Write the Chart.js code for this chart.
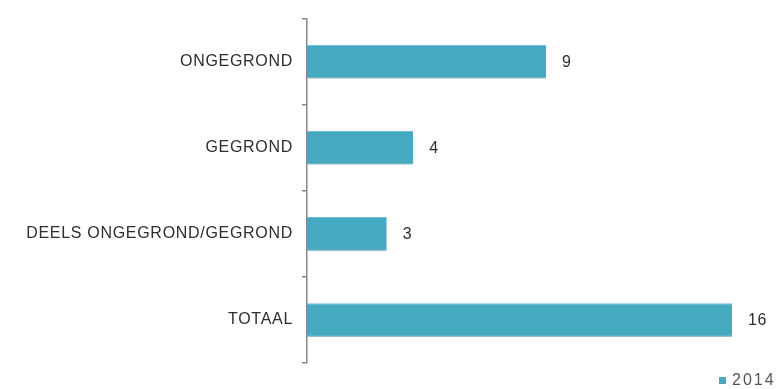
<!DOCTYPE html>
<html>
<head>
<meta charset="utf-8">
<script src="https://cdn.jsdelivr.net/npm/chart.js@4/dist/chart.umd.min.js"></script>
<style>
  html, body { margin: 0; padding: 0; background: #fff; }
  #wrap { width: 779px; height: 389px; }
</style>
</head>
<body>
<div id="wrap"><canvas id="myChart"></canvas></div>
<script>
const categories = ['ONGEGROND', 'GEGROND', 'DEELS ONGEGROND/GEGROND', 'TOTAAL'];
const seriesName = '2014';
const values = [9, 4, 3, 16];

const barColor = '#45a9c2';
const textColor = '#2e2e2e';
const fontFamily = '"Liberation Sans", Arial, sans-serif';

// letter spacing for all canvas text, the source font is set rather loose
const spacing = {
  id: 'spacing',
  beforeUpdate(chart) { chart.ctx.letterSpacing = '0.7px'; },
  beforeDraw(chart) { chart.ctx.letterSpacing = '0.7px'; }
};

// soft shadow under the bars
const barShadow = {
  id: 'barShadow',
  beforeDatasetsDraw(chart) {
    const c = chart.ctx;
    c.save();
    c.shadowColor = 'rgba(0,0,0,0.2)';
    c.shadowBlur = 5;
    c.shadowOffsetY = 3;
  },
  afterDatasetsDraw(chart) {
    chart.ctx.restore();
  }
};

// value next to each bar + small legend bottom right
const labelsAndLegend = {
  id: 'labelsAndLegend',
  afterDraw(chart) {
    const c = chart.ctx;
    const meta = chart.getDatasetMeta(0);
    c.save();
    c.letterSpacing = '0.5px';
    c.font = '16px ' + fontFamily;
    c.fillStyle = textColor;
    c.textBaseline = 'middle';
    c.textAlign = 'left';
    meta.data.forEach(function(bar, i) {
      c.fillText(String(values[i]), bar.x + 16, bar.y + 1);
    });

    c.letterSpacing = '2px';
    c.font = '16px ' + fontFamily;
    c.fillStyle = '#555';
    c.fillText(seriesName, 732, 381);
    c.fillStyle = barColor;
    c.fillRect(719, 377, 7, 7);
    c.restore();
  }
};

new Chart(document.getElementById('myChart'), {
  type: 'bar',
  data: {
    labels: categories,
    datasets: [{
      label: seriesName,
      data: values,
      backgroundColor: barColor,
      borderColor: '#6cc0d4',
      borderWidth: { top: 1, bottom: 1, left: 0, right: 0 },
      borderSkipped: false,
      categoryPercentage: 1,
      barPercentage: 0.39
    }]
  },
  options: {
    indexAxis: 'y',
    responsive: true,
    maintainAspectRatio: false,
    animation: false,
    layout: {
      padding: { top: 16, bottom: 26, left: 0, right: 47 }
    },
    plugins: {
      legend: { display: false },
      tooltip: { enabled: false }
    },
    scales: {
      x: {
        display: false,
        min: 0,
        max: 16
      },
      y: {
        afterFit: function(axis) { axis.width = 307; },
        border: { display: true, color: '#888', width: 1.5 },
        grid: {
          drawOnChartArea: false,
          drawTicks: true,
          tickLength: 5,
          lineWidth: 1.5,
          color: '#888',
          offset: true
        },
        ticks: {
          color: textColor,
          padding: 9,
          font: { family: fontFamily, size: 16 }
        }
      }
    }
  },
  plugins: [spacing, barShadow, labelsAndLegend]
});
</script>
</body>
</html>
